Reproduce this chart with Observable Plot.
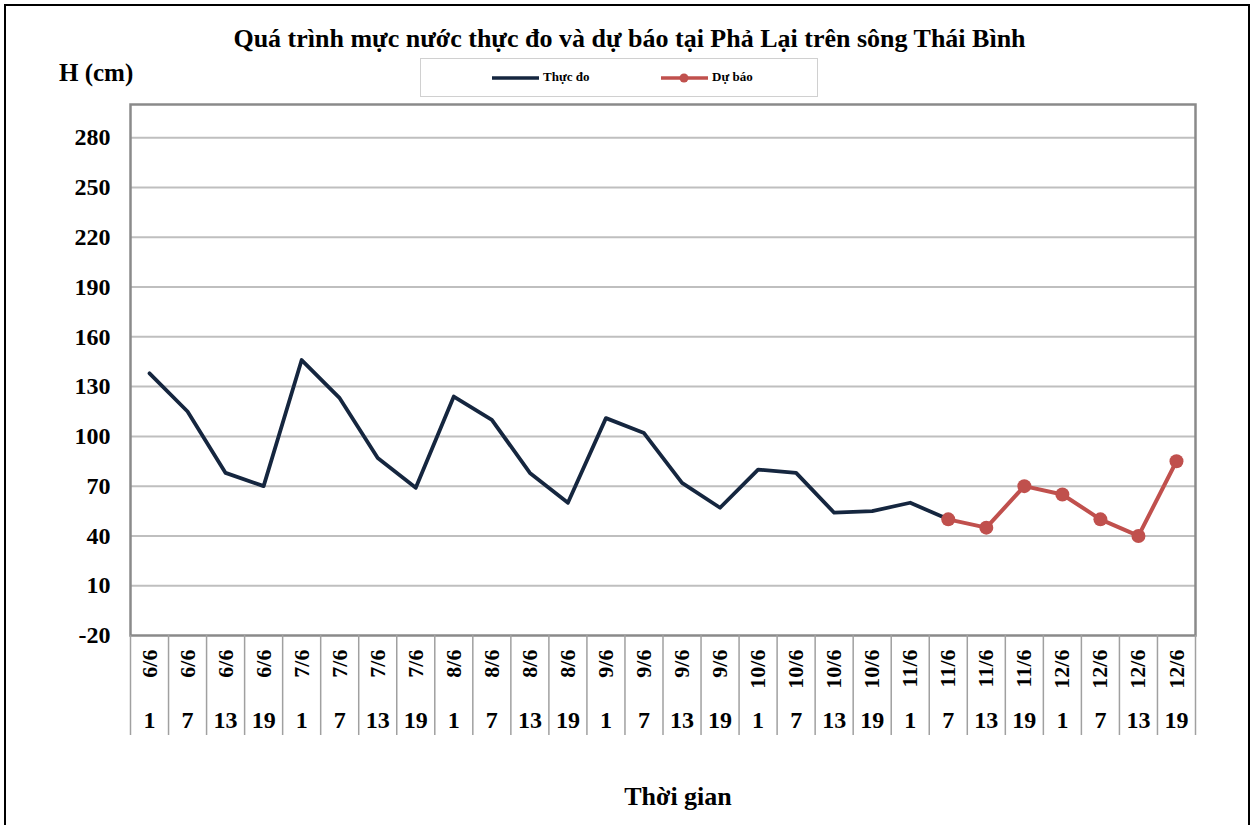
<!DOCTYPE html>
<html>
<head>
<meta charset="utf-8">
<script src="https://cdn.jsdelivr.net/npm/d3@7"></script>
<script src="https://cdn.jsdelivr.net/npm/@observablehq/plot@0.6"></script>
<style>
  html, body { margin: 0; padding: 0; background: #fff; overflow: hidden; }
  #wrap { position: relative; width: 1259px; height: 825px; font-family: "Liberation Serif", "Times New Roman", serif; font-weight: bold; color: #000; }
  #wrap svg { position: absolute; left: 0; top: 0; }
  .abs { position: absolute; white-space: nowrap; }
  #border { position: absolute; left: 4px; top: 4px; width: 1246px; height: 840px; border: 2px solid #000; box-sizing: border-box; }
  #title { left: 0; width: 1259px; top: 24px; text-align: center; font-size: 26px; line-height: 30px; }
  #ylab { left: 59px; top: 59px; font-size: 25px; line-height: 28px; }
  #xlab { left: 0; width: 1356px; top: 782px; text-align: center; font-size: 26px; line-height: 30px; }
  #legend { position: absolute; left: 420px; top: 58px; width: 398px; height: 39px; border: 1.5px solid #d0d0d0; box-sizing: border-box; background: #fff; }
  .lt { position: absolute; top: 10px; font-size: 13px; line-height: 16px; }
</style>
</head>
<body>
<div id="wrap">
  <div id="chart"></div>
  <div id="border"></div>
  <div class="abs" id="title">Quá trình mực nước thực đo và dự báo tại Phả Lại trên sông Thái Bình</div>
  <div class="abs" id="ylab">H (cm)</div>
  <div id="legend">
    <svg width="398" height="39" style="position:absolute;left:0;top:0">
      <line x1="71" x2="118" y1="19" y2="19" stroke="#15263f" stroke-width="3.5"/>
      <line x1="240" x2="287" y1="19" y2="19" stroke="#c0504d" stroke-width="3.5"/>
      <circle cx="263" cy="19" r="4.5" fill="#c0504d"/>
    </svg>
    <div class="lt" style="left:122px">Thực đo</div>
    <div class="lt" style="left:291px">Dự báo</div>
  </div>
  <div class="abs" id="xlab">Thời gian</div>
</div>
<script>
const dates = ["6/6","6/6","6/6","6/6","7/6","7/6","7/6","7/6","8/6","8/6","8/6","8/6","9/6","9/6","9/6","9/6","10/6","10/6","10/6","10/6","11/6","11/6","11/6","11/6","12/6","12/6","12/6","12/6"];
const hours = ["1","7","13","19","1","7","13","19","1","7","13","19","1","7","13","19","1","7","13","19","1","7","13","19","1","7","13","19"];
const actual = [138,115,78,70,146,123,87,69,124,110,78,60,111,102,72,57,80,78,54,55,60,50];
const forecastStart = 21;
const forecast = [50,45,70,65,50,40,85];
const yTicks = [-20,10,40,70,100,130,160,190,220,250,280];

const idx = dates.map((d, i) => i);
const actualData = actual.map((v, i) => ({i, v}));
const forecastData = forecast.map((v, k) => ({i: forecastStart + k, v}));
const bounds = d3.range(dates.length + 1).map(i => i - 0.5);

const font = "Liberation Serif, Times New Roman, serif";

const chart = Plot.plot({
  width: 1259,
  height: 825,
  marginLeft: 130,
  marginRight: 64,
  marginTop: 104,
  marginBottom: 190,
  style: {fontFamily: font, fontWeight: "bold", color: "#000", background: "transparent"},
  x: {type: "linear", domain: [-0.5, dates.length - 0.5], axis: null, label: null},
  y: {domain: [-20, 300], axis: null, label: null},
  marks: [
    Plot.gridY(yTicks.filter(t => t > -20), {stroke: "#bfbfbf", strokeOpacity: 1, strokeWidth: 2}),
    Plot.frame({stroke: "#8a8a8a", strokeWidth: 2.5}),
    Plot.axisY(yTicks, {label: null, tickSize: 0, tickPadding: 20, tickFormat: d => String(d), fontSize: 24, fontWeight: "bold", fill: "#000"}),
    Plot.axisX(bounds, {label: null, tickSize: 100, tickFormat: () => "", stroke: "#a0a0a0", strokeWidth: 1.5, strokeOpacity: 1}),
    Plot.text(idx, {x: d => d, text: i => dates[i], frameAnchor: "bottom", dy: 14, rotate: -90, textAnchor: "end", lineAnchor: "middle", fontSize: 22, fontWeight: "bold", fill: "#000"}),
    Plot.text(idx, {x: d => d, text: i => hours[i], frameAnchor: "bottom", dy: 85, lineAnchor: "middle", fontSize: 24, fontWeight: "bold", fill: "#000"}),
    Plot.line(actualData, {x: "i", y: "v", stroke: "#15263f", strokeWidth: 3.8, strokeLinejoin: "round"}),
    Plot.line(forecastData, {x: "i", y: "v", stroke: "#c0504d", strokeWidth: 4, strokeLinejoin: "round"}),
    Plot.dot(forecastData, {x: "i", y: "v", r: 7, fill: "#c0504d", stroke: "none"})
  ]
});
document.getElementById("chart").appendChild(chart);
</script>
</body>
</html>
